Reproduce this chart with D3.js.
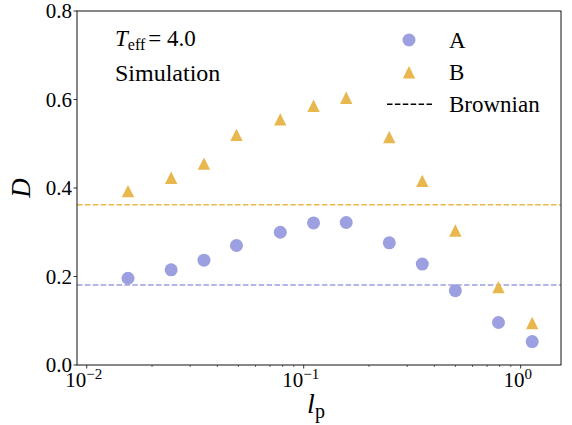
<!DOCTYPE html>
<html>
<head>
<meta charset="utf-8">
<script src="https://cdn.jsdelivr.net/npm/d3@7"></script>
</head>
<body style="margin:0">
<script>

    var W = 572, H = 425;
    var margin = {top: 11, right: 11, bottom: 60, left: 77};
    var width = W - margin.left - margin.right,
        height = H - margin.top - margin.bottom;

    // data
    var lp = [0.0155, 0.0245, 0.0347, 0.049, 0.078, 0.111, 0.157, 0.248, 0.352, 0.50, 0.79, 1.13];
    var seriesA = [0.196, 0.215, 0.237, 0.270, 0.300, 0.321, 0.322, 0.276, 0.228, 0.168, 0.096, 0.053];
    var seriesB = [0.393, 0.423, 0.455, 0.520, 0.555, 0.586, 0.604, 0.515, 0.416, 0.304, 0.176, 0.095];
    var brownian = [0.181, 0.362];   // A, B
    var yTicks = [0.0, 0.2, 0.4, 0.6, 0.8];
    var xTicks = [0.01, 0.1, 1];
    var xTickExp = ["\u22122", "\u22121", "0"];

    var colA = "#9c9fe0", colB = "#e8b74e";
    var ff = "'Liberation Serif'";

    var svg = d3.select("body").append("svg")
        .attr("width", W).attr("height", H)
      .append("g")
        .attr("transform", "translate(" + margin.left + "," + margin.top + ")");

    var x = d3.scaleLog().domain([0.00902, 1.534]).range([0, width]);
    var y = d3.scaleLinear().domain([0, 0.8]).range([height, 0]);

    // brownian reference lines
    svg.selectAll(".brown")
      .data(brownian)
      .enter().append("line")
      .attr("x1", 0).attr("x2", width)
      .attr("y1", function(d) { return y(d); })
      .attr("y2", function(d) { return y(d); })
      .attr("stroke", function(d, i) { return i == 0 ? colA : colB; })
      .attr("stroke-width", 1.5)
      .attr("stroke-dasharray", "5.5,2.4");

    // points
    svg.selectAll(".ptA")
      .data(seriesA)
      .enter().append("circle")
      .attr("cx", function(d, i) { return x(lp[i]); })
      .attr("cy", function(d) { return y(d); })
      .attr("r", 6.5)
      .attr("fill", colA);

    var tri = function(cx, cy, s) {
        return "M" + cx + "," + (cy - s) + "L" + (cx + s) + "," + (cy + s) + "L" + (cx - s) + "," + (cy + s) + "Z";
    };

    svg.selectAll(".ptB")
      .data(seriesB)
      .enter().append("path")
      .attr("d", function(d, i) { return tri(x(lp[i]), y(d), 6.2); })
      .attr("fill", colB);

    // y axis
    svg.selectAll(".yt").data(yTicks).enter().append("line")
      .attr("x1", -3.5).attr("x2", 0)
      .attr("y1", function(d) { return y(d); }).attr("y2", function(d) { return y(d); })
      .attr("stroke", "#000").attr("stroke-width", 0.8);
    svg.selectAll(".yl").data(yTicks).enter().append("text")
      .attr("x", -5)
      .attr("y", function(d) { return y(d) + 7; })
      .attr("text-anchor", "end")
      .style("font-family", ff)
      .style("font-size", "21px")
      .text(function(d) { return d.toFixed(1); });

    // x axis (log, with minor ticks)
    var minor = [];
    [0.01, 0.1, 1].forEach(function(dec) {
        for (var k = 2; k <= 9; k++) {
            var v = dec * k;
            if (v > x.domain()[0] && v < x.domain()[1]) minor.push(v);
        }
    });
    var gx = svg.append("g").attr("transform", "translate(0," + height + ")");
    gx.selectAll(".mn").data(minor).enter().append("line")
      .attr("x1", function(d) { return x(d); }).attr("x2", function(d) { return x(d); })
      .attr("y1", 0).attr("y2", 2).attr("stroke", "#000").attr("stroke-width", 0.6);
    gx.selectAll(".mj").data(xTicks).enter().append("line")
      .attr("x1", function(d) { return x(d); }).attr("x2", function(d) { return x(d); })
      .attr("y1", 0).attr("y2", 3.5).attr("stroke", "#000").attr("stroke-width", 0.8);
    var xl = gx.selectAll(".xl").data(xTicks).enter().append("text")
      .attr("x", function(d) { return x(d) - 3; })
      .attr("y", 22)
      .attr("text-anchor", "middle")
      .style("font-family", ff)
      .style("font-size", "21px");
    xl.append("tspan").text("10");
    xl.append("tspan").attr("dy", -8).style("font-size", "15px")
      .text(function(d, i) { return xTickExp[i]; });

    // frame
    svg.append("rect").attr("x", 0).attr("y", 0).attr("width", width).attr("height", height)
      .attr("fill", "none").attr("stroke", "#111").attr("stroke-width", 1);

    // axis labels
    svg.append("text")
      .attr("transform", "translate(" + (-47) + "," + (height / 2) + ") rotate(-90)")
      .attr("text-anchor", "middle")
      .style("font-family", ff)
      .style("font-size", "27px").style("font-style", "italic")
      .text("D");

    var xlab = svg.append("text")
      .attr("x", width / 2 - 3).attr("y", height + 48)
      .attr("text-anchor", "middle")
      .style("font-family", ff)
      .style("font-size", "28px");
    xlab.append("tspan").style("font-style", "italic").text("l");
    xlab.append("tspan").attr("dy", 5).style("font-size", "20px").text("p");

    // annotations
    var ann = svg.append("text").attr("x", 38).attr("y", 35)
      .style("font-family", ff).style("font-size", "23px");
    ann.append("tspan").style("font-style", "italic").text("T");
    ann.append("tspan").attr("dy", 4).style("font-size", "16px").text("eff");
    ann.append("tspan").attr("dy", -4).attr("dx", 3).text("= 4.0");
    svg.append("text").attr("x", 38).attr("y", 70)
      .style("font-family", ff)
      .style("font-size", "24px").text("Simulation");

    // legend
    var lx = 332, ltx = 372;
    svg.append("circle").attr("cx", lx).attr("cy", 29).attr("r", 6.5).attr("fill", colA);
    svg.append("path").attr("d", tri(lx, 61.3, 6.2)).attr("fill", colB);
    svg.append("line").attr("x1", lx - 22).attr("x2", lx + 23).attr("y1", 93.3).attr("y2", 93.3)
      .attr("stroke", "#000").attr("stroke-width", 1.5).attr("stroke-dasharray", "5.5,2.4");
    var legText = ["A", "B", "Brownian"];
    svg.selectAll(".lt").data(legText).enter().append("text")
      .attr("x", ltx)
      .attr("y", function(d, i) { return 36.5 + i * 32; })
      .style("font-family", ff)
      .style("font-size", "23px")
      .text(function(d) { return d; });

</script>
</body>
</html>
